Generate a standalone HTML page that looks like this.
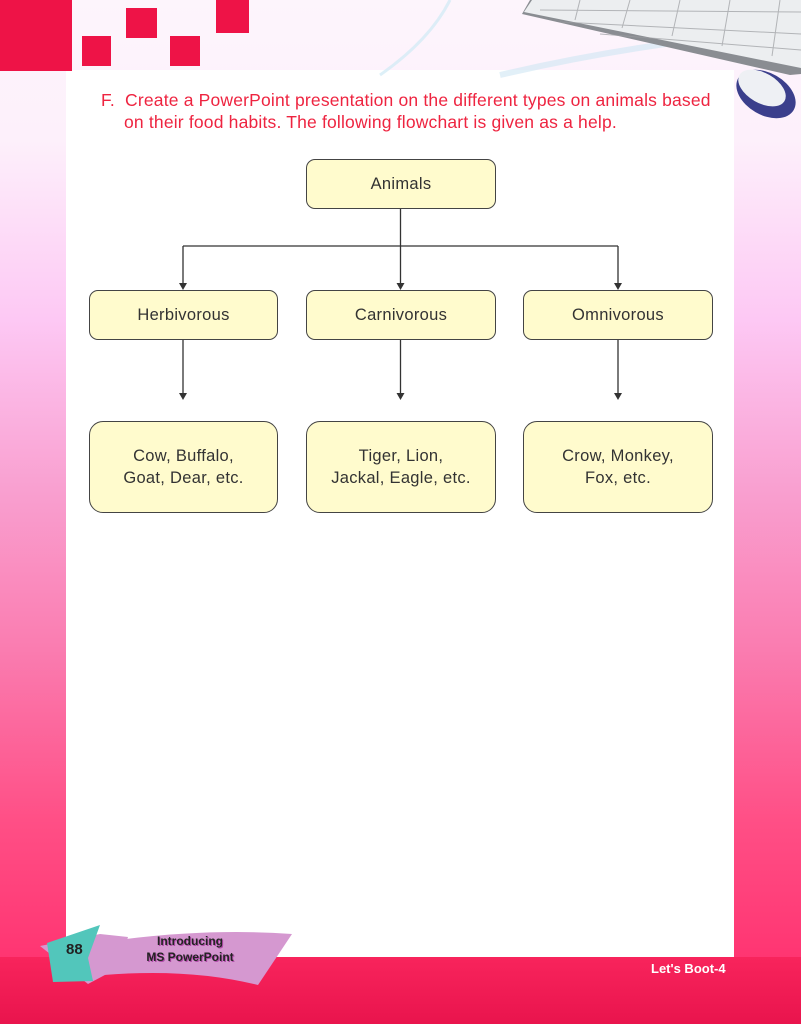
<!DOCTYPE html>
<html><head><meta charset="utf-8"><style>
body{margin:0;width:801px;height:1024px;position:relative;overflow:hidden;font-family:"Liberation Sans",sans-serif;
background:linear-gradient(to bottom,#fdf5fc 0px,#fdf0fb 140px,#fdc8f4 320px,#f9a2d2 480px,#fa7cb0 650px,#ff4f86 820px,#ff3572 957px,#f5205a 960px,#e8154e 1024px);}
.r{position:absolute;background:#ee1347}
#panel{position:absolute;left:66px;top:70px;width:668px;height:887px;background:#fff}
#bot{position:absolute;left:0;top:957px;width:801px;height:67px;background:linear-gradient(#f8245c,#e9144d)}
.b{position:absolute;background:#fffbcd;border:1.3px solid #444;border-radius:9px;box-sizing:border-box;display:flex;align-items:center;justify-content:center;text-align:center;color:#333;font-size:16.5px;line-height:22px;letter-spacing:.3px}
.q{position:absolute;color:#ee2440;font-size:17.5px;left:101px;line-height:22px;letter-spacing:.18px;white-space:nowrap}
</style></head><body>
<div id="panel"></div>
<div id="bot"></div>
<div class="r" style="left:82px;top:36px;width:29px;height:30px"></div>
<div class="r" style="left:126px;top:8px;width:31px;height:30px"></div>
<div class="r" style="left:170px;top:36px;width:30px;height:30px"></div>
<div class="r" style="left:216px;top:0;width:33px;height:33px"></div>
<div class="r" style="left:0;top:0;width:72px;height:71px"></div>
<svg style="position:absolute;left:0;top:0" width="801" height="1024">
<path d="M380 75 Q430 40 450 0" stroke="#cfeaf5" stroke-width="3" fill="none" opacity=".7"/>
<path d="M500 75 Q650 40 801 30" stroke="#cfe6f3" stroke-width="6" fill="none" opacity=".6"/>
<path d="M522 14 L530 0 L801 0 L801 74 L790 75 Z" fill="#8a8d92"/>
<path d="M524 12 L532 0 L801 0 L801 68 Z" fill="#eceef0"/>
<g stroke="#9a9ca0" stroke-width="1" opacity=".7">
<line x1="540" y1="10" x2="801" y2="12"/><line x1="560" y1="22" x2="801" y2="34"/><line x1="600" y1="34" x2="801" y2="50"/>
<line x1="580" y1="0" x2="575" y2="20"/><line x1="630" y1="0" x2="622" y2="28"/><line x1="680" y1="0" x2="672" y2="36"/><line x1="730" y1="0" x2="722" y2="46"/><line x1="780" y1="0" x2="772" y2="56"/>
</g>
<ellipse cx="766" cy="94" rx="32" ry="21" transform="rotate(30 766 94)" fill="#3b3f8c"/>
<ellipse cx="762" cy="88" rx="26" ry="15" transform="rotate(30 762 88)" fill="#eef0f4"/>
<g stroke="#333" stroke-width="1.3" fill="#333">
<line x1="400.5" y1="208" x2="400.5" y2="283"/>
<line x1="183" y1="246" x2="618" y2="246"/>
<line x1="183" y1="246" x2="183" y2="283"/>
<line x1="618" y1="246" x2="618" y2="283"/>
<line x1="183" y1="339" x2="183" y2="393"/>
<line x1="400.5" y1="339" x2="400.5" y2="393"/>
<line x1="618" y1="339" x2="618" y2="393"/>
<path d="M179 283h8l-4 7z M396.5 283h8l-4 7z M614 283h8l-4 7z M179 393h8l-4 7z M396.5 393h8l-4 7z M614 393h8l-4 7z" stroke="none"/>
</g>
<path d="M40 946 L100 934 L128 937 L118 968 L88 984 Z" fill="#d598d0"/>
<path d="M118 940 Q210 928 292 934 L258 985 Q190 968 104 975 Z" fill="#d598d0"/>
<path d="M32 943 L85 925 L73 958 L78 981 L38 982 Z" transform="translate(15,0)" fill="#52c6bb"/>
</svg>
<div class="q" style="top:89px">F.&nbsp; Create a PowerPoint presentation on the different types on animals based</div>
<div class="q" style="top:111px;left:124px">on their food habits. The following flowchart is given as a help.</div>
<div class="b" style="left:306px;top:159px;width:190px;height:50px">Animals</div>
<div class="b" style="left:89px;top:290px;width:189px;height:50px">Herbivorous</div>
<div class="b" style="left:306px;top:290px;width:190px;height:50px">Carnivorous</div>
<div class="b" style="left:523px;top:290px;width:190px;height:50px">Omnivorous</div>
<div class="b" style="left:89px;top:421px;width:189px;height:92px;border-radius:14px">Cow, Buffalo,<br>Goat, Dear, etc.</div>
<div class="b" style="left:306px;top:421px;width:190px;height:92px;border-radius:14px">Tiger, Lion,<br>Jackal, Eagle, etc.</div>
<div class="b" style="left:523px;top:421px;width:190px;height:92px;border-radius:14px">Crow, Monkey,<br>Fox, etc.</div>
<div style="position:absolute;left:66px;top:941px;font-weight:bold;font-size:15px;color:#222">88</div>
<div style="position:absolute;left:130px;top:933px;width:120px;text-align:center;font-size:12px;line-height:16px;color:#222;font-weight:bold;text-shadow:1px 1px 0 #b04aa8">Introducing<br>MS PowerPoint</div>
<div style="position:absolute;left:651px;top:961px;font-size:13px;font-weight:bold;color:#fff">Let's Boot-4</div>
</body></html>
